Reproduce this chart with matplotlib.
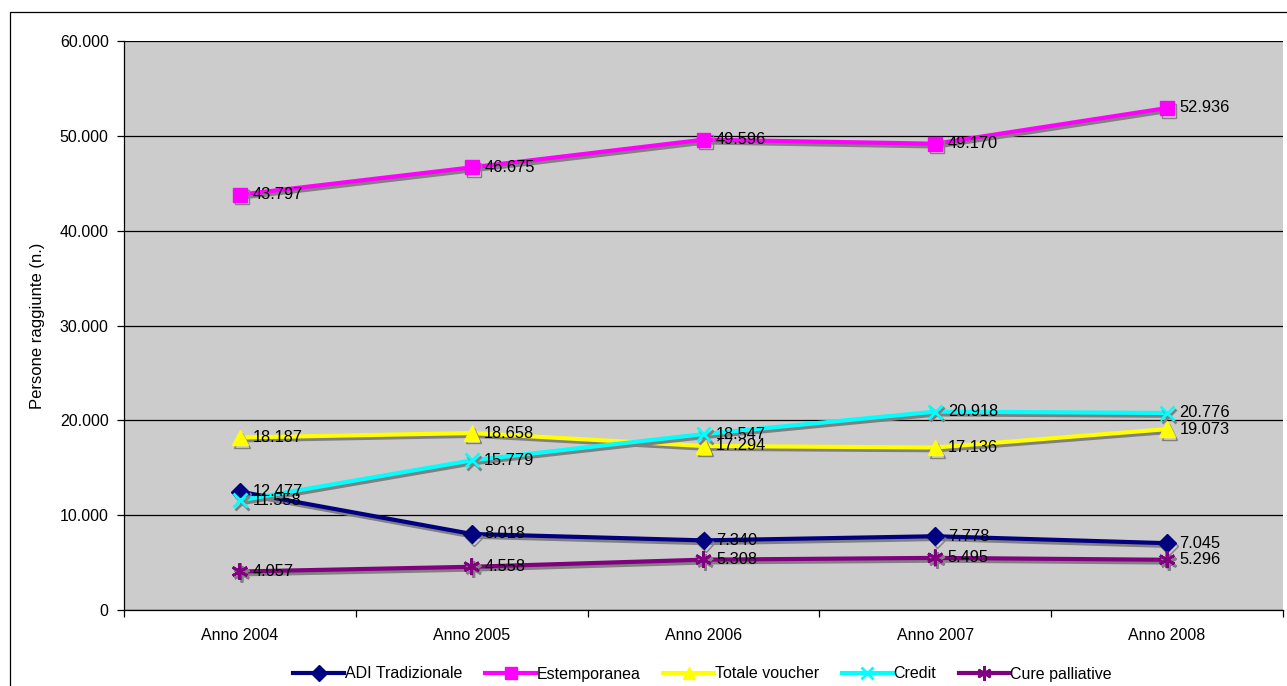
import matplotlib
matplotlib.use("Agg")
import matplotlib.pyplot as plt
import matplotlib.patheffects as pe
from matplotlib.patches import Rectangle
from matplotlib.ticker import FuncFormatter, FixedLocator

plt.rcParams['font.family'] = ['Liberation Sans', 'DejaVu Sans']

anni = ["Anno 2004", "Anno 2005", "Anno 2006", "Anno 2007", "Anno 2008"]

adi_tradizionale = [12477, 8018, 7340, 7778, 7045]
estemporanea = [43797, 46675, 49596, 49170, 52936]
totale_voucher = [18187, 18658, 17294, 17136, 19073]
credit = [11558, 15779, 18547, 20918, 20776]
cure_palliative = [4057, 4558, 5308, 5495, 5296]

serie = [
    ("ADI Tradizionale", adi_tradizionale, "#000080", "D", 9),
    ("Estemporanea", estemporanea, "#FF00FF", "s", 10),
    ("Totale voucher", totale_voucher, "#FFFF00", "^", 11),
    ("Credit", credit, "#00FFFF", "x", 10),
    ("Cure palliative", cure_palliative, "#800080", (6, 2, 0), 12),
]


def migliaia(v, pos=None):
    return f"{int(v):,}".replace(",", ".")


fig = plt.figure(figsize=(12.87, 6.86), dpi=100)
ax = fig.add_axes([124 / 1287, 1 - 610 / 686, 1159 / 1287, 569 / 686])
ax.set_facecolor("#CCCCCC")

x = list(range(len(anni)))
ombra = [pe.SimpleLineShadow(offset=(1.5, -2), shadow_color="#808080", alpha=1.0), pe.Normal()]

for nome, valori, colore, marker, ms in serie:
    mew = 2 if marker in ("x", (6, 2, 0)) else 1
    ax.plot(x, valori, color=colore, lw=3, marker=marker, markersize=ms,
            markeredgewidth=mew, markeredgecolor=colore, label=nome,
            path_effects=ombra, zorder=3)
    for xi, v in zip(x, valori):
        ax.annotate(migliaia(v), (xi, v), xytext=(9, 0), textcoords="offset points",
                    ha="left", va="center", fontsize=11.8, color="black", zorder=4)

ax.set_xlim(-0.5, len(anni) - 0.5)
ax.set_ylim(0, 60000)
ax.yaxis.set_major_locator(FixedLocator(range(0, 60001, 10000)))
ax.yaxis.set_major_formatter(FuncFormatter(migliaia))
ax.grid(axis="y", color="black", lw=0.9, zorder=1)
ax.set_axisbelow(True)

ax.set_xticks(x)
ax.set_xticklabels(anni)
ax.set_xticks([i - 0.5 for i in range(len(anni) + 1)], minor=True)
ax.tick_params(axis="x", which="major", length=0, pad=13, labelsize=11.5)
ax.tick_params(axis="x", which="minor", length=5, width=0.9, direction="out")
ax.tick_params(axis="y", length=5, width=0.9, direction="out", labelsize=11.5, pad=6)

for lato in ("top", "right"):
    ax.spines[lato].set_visible(False)
ax.spines["left"].set_linewidth(0.9)
ax.spines["bottom"].set_linewidth(0.9)

ax.set_ylabel("Persone raggiunte (n.)", fontsize=12)
ax.yaxis.set_label_coords(-0.068, 0.5)

leg = fig.legend(loc="center", bbox_to_anchor=(0.546, 1 - 674 / 686), ncol=5,
                 frameon=False, fontsize=11.5, handlelength=3.2, handletextpad=0.05,
                 columnspacing=1.4)
for h in leg.legend_handles:
    h.set_markersize(h.get_markersize() * 0.85)
    h.set_path_effects([])

fig.patches.append(Rectangle((10 / 1287, -0.02), 1.05, 1 - 12 / 686 + 0.02,
                             transform=fig.transFigure, fill=False,
                             edgecolor="black", lw=0.9))

fig.savefig("out.png", dpi=100)
